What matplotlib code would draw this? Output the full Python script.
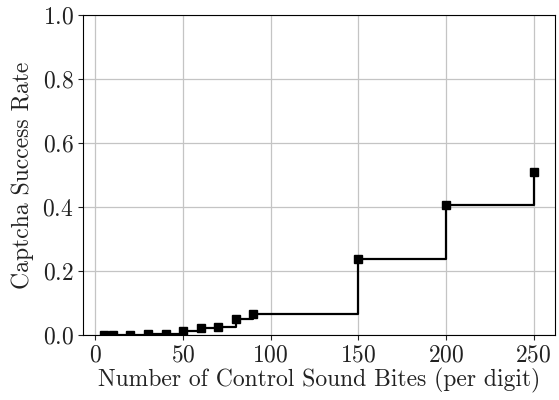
import matplotlib
matplotlib.use('Agg')
import matplotlib.pyplot as plt

# number of control sound bites per digit vs success rate
bites = [5, 10, 20, 30, 40, 50, 60, 70, 80, 90, 150, 200, 250]
success = [0.002, 0.002, 0.002, 0.004, 0.004, 0.013, 0.021, 0.026,
           0.052, 0.065, 0.2375, 0.406, 0.509]

plt.rcParams['font.family'] = 'cmr10'
plt.rcParams['mathtext.fontset'] = 'cm'
plt.rcParams['axes.formatter.use_mathtext'] = True

fig = plt.figure(figsize=(5.59, 4.0), dpi=100)
ax = fig.add_subplot(111)
fig.subplots_adjust(left=0.148, right=0.993, top=0.962, bottom=0.162)

ax.plot(bites, success, drawstyle='steps-post', color='black',
        marker='s', markersize=5.8, linewidth=1.6)
ax.set_ylim(0, 1.0)
ax.grid(True, color='#c4c4c4', linewidth=0.9)
ax.set_axisbelow(True)
ax.tick_params(labelsize=17, colors='#222222', pad=3)
ax.set_xlabel('Number of Control Sound Bites (per digit)', fontsize=17,
              color='#222222', labelpad=1)
ax.set_ylabel('Captcha Success Rate', fontsize=17, color='#222222', labelpad=6)

fig.savefig('out.png', dpi=100)
